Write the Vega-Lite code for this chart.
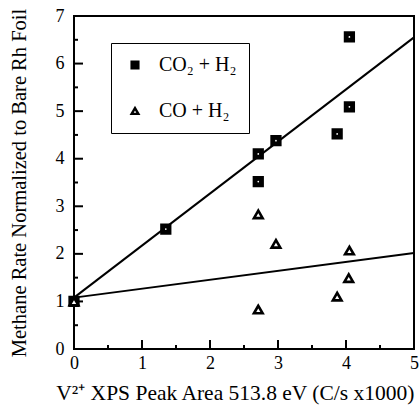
{
  "$schema": "https://vega.github.io/schema/vega-lite/v6.json",
  "width": 340,
  "height": 333,
  "autosize": {"type": "none"},
  "padding": {"left": 74, "top": 16, "right": 5, "bottom": 57},
  "config": {
    "font": "Liberation Serif",
    "view": {"stroke": "black", "strokeWidth": 2},
    "axis": {
      "grid": false,
      "domain": false,
      "ticks": false,
      "labelColor": "black",
      "titleColor": "black",
      "labelFont": "Liberation Serif",
      "titleFont": "Liberation Serif",
      "labelFontSize": 18,
      "titleFontWeight": "normal"
    },
    "legend": {
      "labelFont": "Liberation Serif",
      "labelFontSize": 20,
      "labelColor": "black"
    }
  },
  "datasets": {
    "pts": [
      {"x": 0, "y": 1.0, "series": "CO₂ + H₂"},
      {"x": 1.35, "y": 2.52, "series": "CO₂ + H₂"},
      {"x": 2.71, "y": 4.1, "series": "CO₂ + H₂"},
      {"x": 2.71, "y": 3.52, "series": "CO₂ + H₂"},
      {"x": 2.97, "y": 4.38, "series": "CO₂ + H₂"},
      {"x": 3.87, "y": 4.52, "series": "CO₂ + H₂"},
      {"x": 4.05, "y": 5.09, "series": "CO₂ + H₂"},
      {"x": 4.05, "y": 6.56, "series": "CO₂ + H₂"},
      {"x": 0, "y": 1.0, "series": "CO + H₂"},
      {"x": 2.71, "y": 2.83, "series": "CO + H₂"},
      {"x": 2.97, "y": 2.21, "series": "CO + H₂"},
      {"x": 4.05, "y": 2.07, "series": "CO + H₂"},
      {"x": 4.04, "y": 1.49, "series": "CO + H₂"},
      {"x": 3.87, "y": 1.1, "series": "CO + H₂"},
      {"x": 2.71, "y": 0.83, "series": "CO + H₂"}
    ],
    "fits": [
      {"x": 0, "y": 1.08, "fit": "CO2"},
      {"x": 5, "y": 6.55, "fit": "CO2"},
      {"x": 0, "y": 1.08, "fit": "CO"},
      {"x": 5, "y": 2.02, "fit": "CO"}
    ],
    "xticks": [
      {"x": 1, "kind": "major"}, {"x": 2, "kind": "major"}, {"x": 3, "kind": "major"}, {"x": 4, "kind": "major"},
      {"x": 0.5, "kind": "minor"}, {"x": 1.5, "kind": "minor"}, {"x": 2.5, "kind": "minor"}, {"x": 3.5, "kind": "minor"}, {"x": 4.5, "kind": "minor"}
    ],
    "yticks": [
      {"y": 1, "kind": "major"}, {"y": 2, "kind": "major"}, {"y": 3, "kind": "major"}, {"y": 4, "kind": "major"}, {"y": 5, "kind": "major"}, {"y": 6, "kind": "major"},
      {"y": 0.5, "kind": "minor"}, {"y": 1.5, "kind": "minor"}, {"y": 2.5, "kind": "minor"}, {"y": 3.5, "kind": "minor"}, {"y": 4.5, "kind": "minor"}, {"y": 5.5, "kind": "minor"}, {"y": 6.5, "kind": "minor"}
    ]
  },
  "layer": [
    {
      "data": {"name": "fits"},
      "mark": {"type": "line", "color": "black", "strokeWidth": 2},
      "encoding": {
        "x": {
          "field": "x", "type": "quantitative",
          "scale": {"domain": [0, 5], "nice": false, "zero": false},
          "axis": {
            "values": [0, 1, 2, 3, 4, 5],
            "format": "d",
            "labelPadding": 5,
            "labelFlush": false,
            "title": "V²⁺   XPS Peak Area 513.8 eV (C/s x1000)",
            "titleFontSize": 21.5,
            "titleAnchor": "end",
            "titlePadding": 10
          }
        },
        "y": {
          "field": "y", "type": "quantitative",
          "scale": {"domain": [0, 7], "nice": false, "zero": false},
          "axis": {
            "values": [0, 1, 2, 3, 4, 5, 6, 7],
            "format": "d",
            "labelPadding": 10,
            "labelFlush": false,
            "title": "Methane Rate Normalized to Bare Rh Foil",
            "titleFontSize": 20.5,
            "titlePadding": 26
          }
        },
        "detail": {"field": "fit", "type": "nominal"}
      }
    },
    {
      "data": {"name": "xticks"},
      "transform": [{"filter": "datum.kind == 'major'"}],
      "mark": {"type": "tick", "orient": "vertical", "color": "black", "size": 9, "thickness": 2, "yOffset": -4.5, "opacity": 1},
      "encoding": {
        "x": {"field": "x", "type": "quantitative"},
        "y": {"datum": 0, "type": "quantitative"}
      }
    },
    {
      "data": {"name": "xticks"},
      "transform": [{"filter": "datum.kind == 'minor'"}],
      "mark": {"type": "tick", "orient": "vertical", "color": "black", "size": 4, "thickness": 2, "yOffset": -2, "opacity": 1},
      "encoding": {
        "x": {"field": "x", "type": "quantitative"},
        "y": {"datum": 0, "type": "quantitative"}
      }
    },
    {
      "data": {"name": "yticks"},
      "transform": [{"filter": "datum.kind == 'major'"}],
      "mark": {"type": "tick", "orient": "horizontal", "color": "black", "size": 9, "thickness": 2, "xOffset": 4.5, "opacity": 1},
      "encoding": {
        "y": {"field": "y", "type": "quantitative"},
        "x": {"datum": 0, "type": "quantitative"}
      }
    },
    {
      "data": {"name": "yticks"},
      "transform": [{"filter": "datum.kind == 'minor'"}],
      "mark": {"type": "tick", "orient": "horizontal", "color": "black", "size": 4, "thickness": 2, "xOffset": 2, "opacity": 1},
      "encoding": {
        "y": {"field": "y", "type": "quantitative"},
        "x": {"datum": 0, "type": "quantitative"}
      }
    },
    {
      "data": {"name": "pts"},
      "mark": {"type": "point", "filled": true, "stroke": "black", "strokeWidth": 2.6, "size": 75, "opacity": 1, "clip": false},
      "encoding": {
        "x": {"field": "x", "type": "quantitative"},
        "y": {"field": "y", "type": "quantitative"},
        "shape": {
          "field": "series", "type": "nominal",
          "scale": {"domain": ["CO₂ + H₂", "CO + H₂"], "range": ["square", "triangle-up"]},
          "legend": {
            "title": null, "orient": "none", "legendX": 37, "legendY": 27,
            "strokeColor": "black", "padding": 12, "rowPadding": 26,
            "symbolSize": 45, "symbolStrokeWidth": 2.4, "symbolOffset": 2, "labelOffset": 14
          }
        },
        "fill": {
          "field": "series", "type": "nominal",
          "scale": {"domain": ["CO₂ + H₂", "CO + H₂"], "range": ["black", "white"]},
          "legend": {
            "title": null, "orient": "none", "legendX": 37, "legendY": 27,
            "strokeColor": "black", "padding": 12, "rowPadding": 26,
            "symbolSize": 45, "symbolStrokeWidth": 2.4, "symbolOffset": 2, "labelOffset": 14
          }
        },
        "stroke": {
          "field": "series", "type": "nominal",
          "scale": {"domain": ["CO₂ + H₂", "CO + H₂"], "range": ["black", "black"]},
          "legend": {
            "title": null, "orient": "none", "legendX": 37, "legendY": 27,
            "strokeColor": "black", "padding": 12, "rowPadding": 26,
            "symbolSize": 45, "symbolStrokeWidth": 2.4, "symbolOffset": 2, "labelOffset": 14
          }
        }
      }
    },
    {
      "data": {"name": "pts"},
      "transform": [{"filter": "datum.series == 'CO₂ + H₂' && datum.x > 0"}],
      "mark": {"type": "point", "filled": true, "color": "white", "size": 3, "opacity": 1, "clip": false},
      "encoding": {
        "x": {"field": "x", "type": "quantitative"},
        "y": {"field": "y", "type": "quantitative"}
      }
    }
  ]
}
